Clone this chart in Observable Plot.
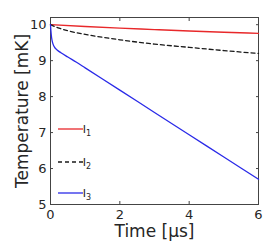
<!DOCTYPE html>
<html>
<head>
<meta charset="utf-8">
<script src="https://cdn.jsdelivr.net/npm/d3@7"></script>
<script src="https://cdn.jsdelivr.net/npm/@observablehq/plot@0.6"></script>
<style>
  html, body { margin: 0; padding: 0; background: #fff; }
  svg { font-family: "DejaVu Sans", sans-serif; }
</style>
</head>
<body>
<div id="chart"></div>
<script>
const seriesNames = ["I1", "I2", "I3"];
const seriesColors = ["#e8282a", "#1a1a1a", "#2a2ae8"];
const seriesDash = [null, "4,3", null];

const t1 = [0, 1, 2, 3, 4, 5, 6];
const v1 = [10, 9.95, 9.905, 9.865, 9.825, 9.79, 9.76];

const t2 = [0, 0.2, 0.5, 1, 1.5, 2, 3, 4, 5, 6];
const v2 = [10, 9.92, 9.83, 9.73, 9.65, 9.58, 9.46, 9.37, 9.28, 9.2];

const t3 = [0, 0.01, 0.03, 0.06, 0.1, 0.2, 0.3, 0.5, 0.75, 1, 2, 3, 4, 5, 6];
const v3 = [10, 9.85, 9.65, 9.5, 9.4, 9.29, 9.22, 9.1, 8.955, 8.8, 8.18, 7.56, 6.94, 6.32, 5.7];

const xTicks = [0, 2, 4, 6];
const yTicks = [5, 6, 7, 8, 9, 10];

const data = [];
[[t1, v1], [t2, v2], [t3, v3]].forEach(([ts, vs], i) => {
  ts.forEach((t, j) => data.push({series: seriesNames[i], t, v: vs[j]}));
});

const axisColor = "#444";
const plot = Plot.plot({
  width: 278,
  height: 249,
  marginLeft: 50,
  marginRight: 20,
  marginTop: 17,
  marginBottom: 45,
  style: {fontFamily: "DejaVu Sans, sans-serif", fontSize: "13px", color: "#262626", background: "#fff"},
  x: {domain: [0, 6]},
  y: {domain: [5, 10.2]},
  marks: [
    Plot.frame({stroke: axisColor}),
    Plot.axisX(xTicks, {anchor: "bottom", tickSize: -3, tickPadding: 8, stroke: axisColor, fontSize: 13, label: null}),
    Plot.axisX(xTicks, {anchor: "top", tickSize: -3, stroke: axisColor, tickFormat: () => "", label: null}),
    Plot.axisY(yTicks, {anchor: "left", tickSize: -3, tickPadding: 7, stroke: axisColor, fontSize: 13, label: null}),
    Plot.axisY(yTicks, {anchor: "right", tickSize: -3, stroke: axisColor, tickFormat: () => "", label: null}),
    ...seriesNames.map((s, i) =>
      Plot.line(data.filter(d => d.series === s), {
        x: "t", y: "v", stroke: seriesColors[i], strokeWidth: 1.3,
        strokeDasharray: seriesDash[i], curve: "monotone-x"
      })
    ),
    Plot.text(["Time [μs]"], {frameAnchor: "bottom", dy: 32, fontSize: 17, fill: "#262626"}),
    Plot.text(["Temperature [mK]"], {frameAnchor: "left", textAnchor: "middle", dx: -28, rotate: -90, fontSize: 17, fill: "#262626"})
  ]
});

const svg = d3.select(plot);
const legendY = [129, 162, 193];
seriesNames.forEach((s, i) => {
  svg.append("line")
    .attr("x1", 58).attr("x2", 83)
    .attr("y1", legendY[i]).attr("y2", legendY[i])
    .attr("stroke", seriesColors[i]).attr("stroke-width", 1.3)
    .attr("stroke-dasharray", seriesDash[i]);
  const txt = svg.append("text")
    .attr("x", 87).attr("y", legendY[i] + 4)
    .attr("font-size", 11).attr("fill", "#262626")
    .attr("font-family", "DejaVu Sans, sans-serif");
  txt.append("tspan").text("I");
  txt.append("tspan").attr("font-size", 8).attr("dy", 3).text(String(i + 1));
});

document.getElementById("chart").appendChild(plot);
</script>
</body>
</html>
